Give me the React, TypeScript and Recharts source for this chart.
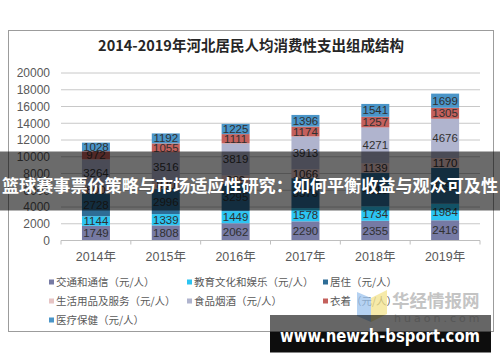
import React from 'react';
import { BarChart, Bar, XAxis, YAxis, CartesianGrid, LabelList } from 'recharts';

const categories = ['2014年', '2015年', '2016年', '2017年', '2018年', '2019年'];
const transport = [1749, 1808, 2062, 2290, 2355, 2416];
const education = [1144, 1339, 1449, 1578, 1734, 1984];
const housing = [2728, 2996, 3295, 3576, 4010, 4290];
const household = [800, 880, 969, 1066, 1139, 1170];
const food = [3264, 3516, 3819, 3913, 4271, 4676];
const clothing = [972, 1055, 1111, 1174, 1257, 1305];
const medical = [1028, 1192, 1225, 1396, 1541, 1699];
const yTicks = [0, 2000, 4000, 6000, 8000, 10000, 12000, 14000, 16000, 18000, 20000];

const title = '2014-2019年河北居民人均消费性支出组成结构';
const bannerText = '篮球赛事票价策略与市场适应性研究：如何平衡收益与观众可及性';
const siteText = 'www.newzh-bsport.com';

const series = [
  { key: 'transport', name: '交通和通信（元/人）', color: '#767aa4', values: transport },
  { key: 'education', name: '教育文化和娱乐（元/人）', color: '#2cc4f2', values: education },
  { key: 'housing', name: '居住（元/人）', color: '#2e6d96', values: housing },
  { key: 'household', name: '生活用品及服务（元/人）', color: '#e6c4c4', values: household },
  { key: 'food', name: '食品烟酒（元/人）', color: '#b0b4ce', values: food },
  { key: 'clothing', name: '衣着（元/人）', color: '#c4605c', values: clothing },
  { key: 'medical', name: '医疗保健（元/人）', color: '#4a95c8', values: medical },
];

const data = categories.map((c, i) => {
  const row: Record<string, any> = { year: c };
  series.forEach((s) => {
    row[s.key] = s.values[i];
  });
  return row;
});

const PLOT_LEFT = 61;
const PLOT_RIGHT = 480;
const BAND = (PLOT_RIGHT - PLOT_LEFT) / categories.length;

const XTick = (props: any) => {
  const { x, y, payload, index } = props;
  const left = x - BAND / 2;
  const isLast = index === categories.length - 1;
  return (
    <g>
      <line x1={left} x2={left} y1={y} y2={y + 4} stroke="#bfbfbf" />
      {isLast && <line x1={x + BAND / 2} x2={x + BAND / 2} y1={y} y2={y + 4} stroke="#bfbfbf" />}
      <text x={x} y={y + 20} textAnchor="middle" fill="#595959" fontSize={12.5} fontFamily="'Liberation Sans', 'Noto Sans CJK SC', sans-serif">
        {payload.value}
      </text>
    </g>
  );
};

const legendPos = [
  [49, 282], [187, 282], [323, 282],
  [49, 301], [187, 301], [323, 301],
  [49, 320],
];

export default function App() {
  return (
    <div style={{ position: 'absolute', left: 0, top: 0, width: 500, height: 362, background: '#fff' }}>
      <BarChart
        width={500}
        height={362}
        data={data}
        margin={{ top: 73, right: 20, left: 11, bottom: 91.5 }}
        barCategoryGap="30%"
      >
        <CartesianGrid vertical={false} stroke="#c8c8c8" />
        <XAxis
          dataKey="year"
          height={30}
          tickLine={false}
          tickSize={0}
          tickMargin={0}
          axisLine={{ stroke: '#bfbfbf' }}
          tick={<XTick />}
          interval={0}
        />
        <YAxis
          width={50}
          domain={[0, 20000]}
          ticks={yTicks}
          interval={0}
          tickLine={false}
          axisLine={false}
          tickSize={6}
          tickMargin={5}
          tick={{ fill: '#595959', fontSize: 12, fontFamily: "'Liberation Sans', sans-serif" }}
        />
        {series.map((s) => (
          <Bar key={s.key} dataKey={s.key} name={s.name} stackId="a" fill={s.color} isAnimationActive={false}>
            <LabelList
              dataKey={s.key}
              position="center"
              fill="#303030"
              fontSize={11.5}
              fontFamily="'Liberation Sans', sans-serif"
            />
          </Bar>
        ))}
      </BarChart>
      <svg width={500} height={362} style={{ position: 'absolute', left: 0, top: 0, pointerEvents: 'none' }}>
        <rect x={8.5} y={30.5} width={485} height={301} fill="none" stroke="#9c9c9c" strokeWidth={1} />
        <text x={251} y={51} textAnchor="middle" fontSize={14.5} fontWeight={700} fill="#262626" fontFamily="'Noto Sans CJK SC', sans-serif">
          {title}
        </text>
        {series.map((s, i) => (
          <g key={s.key}>
            <rect x={legendPos[i][0]} y={legendPos[i][1] - 2.5} width={5} height={5} fill={s.color} />
            <text x={legendPos[i][0] + 7} y={legendPos[i][1] + 4} fontSize={10.5} fill="#595959" fontFamily="'Noto Sans CJK SC', sans-serif">
              {s.name}
            </text>
          </g>
        ))}
        <polygon points="357,292 371,298 371,322 357,316" fill="#9cc3ee" opacity={0.75} />
        <polygon points="371,298 387,290 387,314 371,322" fill="#f3e38c" opacity={0.75} />
        <text x={392} y={307} fontSize={17.5} fontWeight={700} fill="#c4c4c4" fontFamily="'Noto Sans CJK SC', sans-serif">
          华经情报网
        </text>
        <text x={394} y={322} fontSize={11} fill="#d8d8d8" letterSpacing={3} fontFamily="'DejaVu Sans', sans-serif">
          huaon.com
        </text>
        <rect x={0} y={151.5} width={500} height={59} fill="rgba(0,0,0,0.58)" />
        <text x={250} y={192} textAnchor="middle" fontSize={17} fontWeight={700} fill="#ffffff" textLength={496} lengthAdjust="spacingAndGlyphs" fontFamily="'Noto Sans CJK SC', sans-serif">
          {bannerText}
        </text>
        <rect x={270} y={315} width={221} height={17} fill="rgba(0,0,0,0.6)" />
        <rect x={270} y={332} width={221} height={20.5} fill="#0d0d0d" />
        <text x={380} y={342} textAnchor="middle" fontSize={17} fontWeight={700} fill="#ffffff" textLength={200} lengthAdjust="spacingAndGlyphs" fontFamily="'DejaVu Sans', sans-serif">
          {siteText}
        </text>
      </svg>
    </div>
  );
}
